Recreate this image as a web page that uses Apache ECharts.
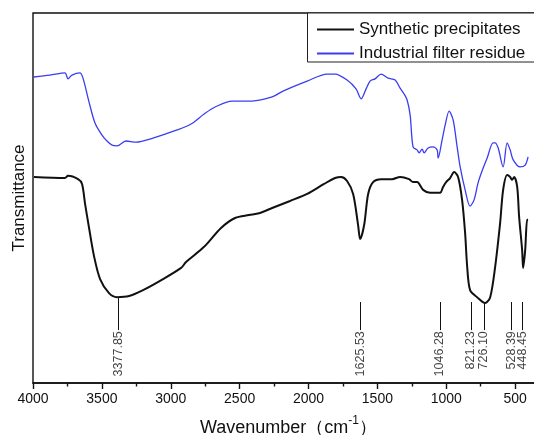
<!DOCTYPE html>
<html>
<head>
<meta charset="utf-8">
<script src="https://cdn.jsdelivr.net/npm/echarts@6/dist/echarts.min.js"></script>
<style>
  html, body { margin: 0; padding: 0; background: #fff; }
  #chart { width: 534px; height: 435px; }
</style>
</head>
<body>
<div id="chart"></div>
<script>
// FTIR spectra (transmittance in arbitrary units)
const seriesNames = ['Synthetic precipitates', 'Industrial filter residue'];

const synthWavenumber = [3993, 3768, 3746, 3673, 3644, 3622, 3593, 3557, 3513, 3448, 3390, 3303, 3201, 3078,
  2925, 2889, 2758, 2635, 2533, 2432, 2359, 2264, 2134, 2010, 1887, 1807, 1763, 1720, 1676, 1640, 1625,
  1596, 1567, 1531, 1473, 1393, 1335, 1270, 1241, 1212, 1168, 1117, 1045, 1023, 1001, 972, 943, 914,
  885, 863, 848, 827, 776, 718, 681, 645, 609, 587, 558, 536, 522, 507, 485, 471, 449, 442, 427, 413, 406];
const synthT = [55.7, 55.4, 56.0, 55.1, 53.8, 48.4, 41.9, 34.3, 28.1, 24.3, 23.2, 23.5, 25.1, 27.6,
  31.1, 32.7, 36.8, 41.9, 44.6, 45.4, 45.9, 47.3, 49.2, 51.1, 53.8, 55.4, 55.7, 54.6, 51.1, 42.7, 38.9,
  42.7, 51.1, 54.3, 55.1, 55.1, 55.7, 55.1, 54.3, 54.3, 52.2, 51.4, 51.4, 53.0, 54.3, 55.4, 57.0, 55.7,
  49.5, 40.5, 31.4, 25.1, 23.2, 21.6, 23.2, 31.4, 43.2, 52.2, 56.2, 55.7, 54.9, 55.7, 53.0, 44.9, 35.9, 31.1, 35.9, 44.1, 44.1];

const residueWavenumber = [3993, 3877, 3768, 3746, 3717, 3659, 3637, 3593, 3550, 3499, 3463, 3426, 3390, 3325,
  3252, 3129, 2954, 2853, 2758, 2678, 2555, 2410, 2264, 2185, 2010, 1865, 1807, 1720, 1655, 1618, 1582,
  1553, 1517, 1473, 1422, 1371, 1335, 1306, 1284, 1262, 1241, 1212, 1197, 1175, 1161, 1132, 1095, 1066,
  1059, 1030, 1008, 979, 950, 921, 899, 863, 827, 798, 769, 732, 703, 660, 645, 623, 587, 558, 536, 514,
  464, 427, 406];
const residueT = [82.7, 83.2, 83.8, 82.2, 83.2, 83.8, 82.4, 75.9, 70.3, 67.0, 65.4, 64.3, 64.1, 65.4,
  65.1, 66.2, 68.4, 70.0, 72.7, 74.6, 76.2, 76.2, 77.3, 78.9, 81.6, 83.5, 83.5, 81.9, 79.5, 76.8, 79.5,
  81.6, 82.2, 83.5, 82.4, 81.9, 79.7, 78.1, 76.5, 72.4, 63.8, 63.0, 62.2, 63.2, 62.2, 63.5, 63.8, 63.0,
  60.8, 65.7, 69.7, 73.5, 71.1, 63.8, 58.4, 52.2, 47.8, 49.5, 54.1, 58.1, 60.8, 64.9, 64.9, 63.5, 58.4,
  64.9, 63.0, 60.3, 58.4, 58.9, 61.1];

const peakWavenumbers = [3377.85, 1625.53, 1046.28, 821.23, 726.10, 528.39, 448.45];

const zip = (xs, ys) => xs.map((x, i) => [x, ys[i]]);

// value of the synthetic curve at a wavenumber (arrays run high -> low)
function synthAt(w) {
  for (let i = 0; i < synthWavenumber.length - 1; i++) {
    const a = synthWavenumber[i], b = synthWavenumber[i + 1];
    if (w <= a && w >= b) {
      const t = (a - w) / (a - b);
      return synthT[i] + t * (synthT[i + 1] - synthT[i]);
    }
  }
  return synthT[synthT.length - 1];
}

// leader lines: start at the curve where it dips this low, else at a common level
const lineTopLevel = 21.9;
const lineBottomLevel = 14.3;
const leaderLines = peakWavenumbers.map(w => {
  const v = synthAt(w);
  const top = v < 24.5 ? v - 0.3 : lineTopLevel;
  return [{ coord: [w, top] }, { coord: [w, lineBottomLevel] }];
});

const font = '"Liberation Sans", Arial, Helvetica, sans-serif';
const chart = echarts.init(document.getElementById('chart'));

chart.setOption({
  animation: false,
  textStyle: { fontFamily: font },
  grid: {
    left: 33, right: -50, top: 13, bottom: 52,
    outerBoundsMode: 'none',
    containLabel: false,
    show: true, borderColor: '#111', borderWidth: 1.4
  },
  // legend frame runs off the right edge, as in the original figure
  graphic: [{
    type: 'rect',
    silent: true,
    z: 90,
    shape: { x: 307.5, y: 13, width: 300, height: 49 },
    style: { fill: '#fff', stroke: '#222', lineWidth: 1 }
  }],
  legend: {
    orient: 'vertical',
    left: 307, top: 13,
    padding: [8, 20, 6, 9],
    itemWidth: 37, itemHeight: 14, itemGap: 7,
    z: 100,
    itemStyle: { opacity: 0 },
    textStyle: { fontSize: 17, color: '#111', fontFamily: font },
    data: seriesNames
  },
  xAxis: {
    type: 'value',
    inverse: true,
    min: 0, max: 4000, interval: 500,
    name: 'Wavenumber（cm{sup|-1}）',
    nameLocation: 'middle',
    nameGap: 32,
    nameTextStyle: {
      fontSize: 18, color: '#111', padding: [0, 40, 0, 0],
      rich: { sup: { fontSize: 12, verticalAlign: 'top', padding: [0, 0, 14, 0], fontFamily: font } }
    },
    axisLine: { lineStyle: { color: '#111', width: 1.6 } },
    axisTick: { show: true, length: 6, lineStyle: { color: '#111', width: 1.4 } },
    minorTick: { show: true, splitNumber: 2, length: 3.5, lineStyle: { color: '#111', width: 1.4 } },
    axisLabel: { fontSize: 14, color: '#111', margin: 9, formatter: v => String(v) },
    splitLine: { show: false }
  },
  yAxis: {
    type: 'value',
    min: 0, max: 100,
    name: 'Transmittance',
    nameLocation: 'middle',
    nameGap: 5,
    nameTextStyle: { fontSize: 17, color: '#111' },
    axisLine: { show: true, lineStyle: { color: '#111', width: 1.6 } },
    axisTick: { show: false },
    axisLabel: { show: false },
    splitLine: { show: false }
  },
  series: [
    {
      name: seriesNames[0],
      type: 'line',
      data: zip(synthWavenumber, synthT),
      symbol: 'none',
      smooth: 0.3,
      lineStyle: { color: '#111', width: 2 },
      itemStyle: { color: '#111' },
      markLine: {
        silent: true,
        symbol: 'none',
        label: { show: false },
        lineStyle: { color: '#111', width: 1, type: 'solid' },
        data: leaderLines
      }
    },
    {
      name: seriesNames[1],
      type: 'line',
      data: zip(residueWavenumber, residueT),
      symbol: 'none',
      smooth: 0.3,
      lineStyle: { color: '#3c3cf2', width: 1.3 },
      itemStyle: { color: '#3c3cf2' }
    },
    {
      name: 'peaks',
      type: 'scatter',
      silent: true,
      symbolSize: 0,
      data: peakWavenumbers.map(w => [w, lineBottomLevel - 0.3]),
      label: {
        show: true,
        position: 'inside',
        rotate: 90,
        align: 'right',
        verticalAlign: 'middle',
        fontSize: 12.5,
        color: '#111',
        formatter: p => p.value[0].toFixed(2)
      }
    }
  ]
});
</script>
</body>
</html>
